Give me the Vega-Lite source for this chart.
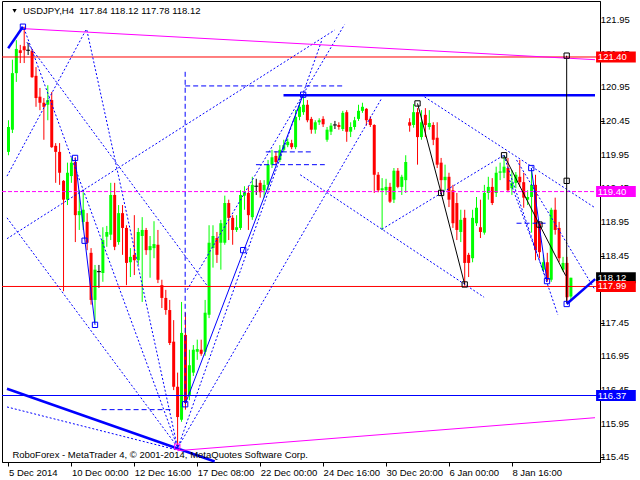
{
  "$schema": "https://vega.github.io/schema/vega-lite/v6.json",
  "width": 598,
  "height": 461,
  "autosize": {"type": "none"},
  "padding": {"left": 2, "top": 1, "right": 40, "bottom": 18},
  "background": "white",
  "config": {
    "view": {"stroke": "#000000", "strokeWidth": 1},
    "axis": {"grid": false, "title": null, "domainColor": "#000000", "tickColor": "#000000", "labelColor": "#000000", "labelFont": "Liberation Sans", "labelFontSize": 9.5, "labelOverlap": false, "labelFlush": false, "labelBound": false, "tickSize": 4},
    "axisX": {"labelPadding": 1}
  },
  "datasets": {
    "candles": [
      {"i":0,"o":119.99,"h":120.46,"l":119.94,"c":120.36},
      {"i":1,"o":120.32,"h":121.36,"l":120.27,"c":121.16},
      {"i":2,"o":121.16,"h":121.65,"l":121.03,"c":121.52},
      {"i":3,"o":121.50,"h":121.58,"l":121.31,"c":121.46},
      {"i":4,"o":121.56,"h":121.85,"l":121.31,"c":121.50},
      {"i":5,"o":121.50,"h":121.61,"l":121.43,"c":121.50},
      {"i":6,"o":121.49,"h":121.52,"l":121.09,"c":121.10},
      {"i":7,"o":121.12,"h":121.25,"l":120.66,"c":120.79},
      {"i":8,"o":120.81,"h":120.94,"l":120.61,"c":120.72},
      {"i":9,"o":120.72,"h":120.79,"l":120.17,"c":120.66},
      {"i":10,"o":120.69,"h":120.98,"l":120.46,"c":120.76},
      {"i":11,"o":120.76,"h":120.88,"l":120.05,"c":120.06},
      {"i":12,"o":120.08,"h":120.12,"l":119.53,"c":119.99},
      {"i":13,"o":119.99,"h":120.12,"l":119.50,"c":119.68},
      {"i":14,"o":119.56,"h":119.57,"l":117.92,"c":119.28},
      {"i":15,"o":119.28,"h":119.83,"l":119.20,"c":119.68},
      {"i":16,"o":119.63,"h":119.90,"l":119.53,"c":119.83},
      {"i":17,"o":119.84,"h":119.91,"l":118.65,"c":119.05},
      {"i":18,"o":119.05,"h":119.42,"l":118.83,"c":119.11},
      {"i":19,"o":118.95,"h":119.39,"l":118.83,"c":119.13},
      {"i":20,"o":118.95,"h":119.08,"l":118.53,"c":118.64},
      {"i":21,"o":118.49,"h":118.56,"l":117.72,"c":117.79},
      {"i":22,"o":117.79,"h":118.31,"l":117.45,"c":118.24},
      {"i":23,"o":118.21,"h":118.31,"l":117.97,"c":118.21},
      {"i":24,"o":118.19,"h":118.87,"l":118.06,"c":118.68},
      {"i":25,"o":118.73,"h":118.89,"l":118.58,"c":118.80},
      {"i":26,"o":118.76,"h":119.53,"l":118.68,"c":119.35},
      {"i":27,"o":119.35,"h":119.53,"l":118.53,"c":118.58},
      {"i":28,"o":118.65,"h":119.20,"l":118.61,"c":119.08},
      {"i":29,"o":119.08,"h":119.20,"l":118.46,"c":118.86},
      {"i":30,"o":118.86,"h":118.90,"l":118.01,"c":118.34},
      {"i":31,"o":118.35,"h":118.56,"l":118.13,"c":118.43},
      {"i":32,"o":118.46,"h":119.05,"l":118.16,"c":118.38},
      {"i":33,"o":118.38,"h":118.86,"l":118.31,"c":118.80},
      {"i":34,"o":118.74,"h":119.02,"l":117.76,"c":118.83},
      {"i":35,"o":118.83,"h":118.86,"l":118.46,"c":118.53},
      {"i":36,"o":118.53,"h":118.74,"l":118.12,"c":118.59},
      {"i":37,"o":118.56,"h":118.96,"l":118.41,"c":118.62},
      {"i":38,"o":118.61,"h":118.83,"l":118.04,"c":118.09},
      {"i":39,"o":118.01,"h":118.09,"l":117.67,"c":117.82},
      {"i":40,"o":117.82,"h":117.94,"l":117.57,"c":117.64},
      {"i":41,"o":117.64,"h":117.79,"l":117.12,"c":117.15},
      {"i":42,"o":117.17,"h":117.49,"l":116.45,"c":116.50},
      {"i":43,"o":116.50,"h":116.71,"l":115.58,"c":116.05},
      {"i":44,"o":116.01,"h":117.76,"l":115.98,"c":117.30},
      {"i":45,"o":117.27,"h":117.60,"l":116.16,"c":116.26},
      {"i":46,"o":116.38,"h":117.05,"l":116.30,"c":116.82},
      {"i":47,"o":116.71,"h":117.12,"l":116.66,"c":117.05},
      {"i":48,"o":117.02,"h":117.20,"l":116.90,"c":117.06},
      {"i":49,"o":117.05,"h":117.20,"l":116.96,"c":116.99},
      {"i":50,"o":117.02,"h":117.79,"l":116.96,"c":117.60},
      {"i":51,"o":117.57,"h":118.90,"l":117.52,"c":118.64},
      {"i":52,"o":118.56,"h":118.90,"l":118.27,"c":118.74},
      {"i":53,"o":118.71,"h":118.80,"l":118.34,"c":118.46},
      {"i":54,"o":118.64,"h":118.98,"l":118.24,"c":118.93},
      {"i":55,"o":118.64,"h":119.34,"l":118.61,"c":119.23},
      {"i":56,"o":119.23,"h":119.28,"l":118.68,"c":119.01},
      {"i":57,"o":119.01,"h":119.05,"l":118.61,"c":118.83},
      {"i":58,"o":118.83,"h":119.05,"l":118.80,"c":118.87},
      {"i":59,"o":118.86,"h":119.42,"l":118.83,"c":119.35},
      {"i":60,"o":119.34,"h":119.48,"l":119.13,"c":119.39},
      {"i":61,"o":119.38,"h":119.48,"l":118.83,"c":119.05},
      {"i":62,"o":119.02,"h":119.62,"l":118.98,"c":119.50},
      {"i":63,"o":119.48,"h":119.59,"l":119.35,"c":119.48},
      {"i":64,"o":119.53,"h":119.57,"l":119.31,"c":119.39},
      {"i":65,"o":119.42,"h":119.57,"l":119.31,"c":119.50},
      {"i":66,"o":119.50,"h":119.87,"l":119.42,"c":119.80},
      {"i":67,"o":119.80,"h":120.02,"l":119.75,"c":119.91},
      {"i":68,"o":119.93,"h":120.00,"l":119.80,"c":119.84},
      {"i":69,"o":119.87,"h":120.09,"l":119.84,"c":120.02},
      {"i":70,"o":120.02,"h":120.17,"l":119.99,"c":120.09},
      {"i":71,"o":120.09,"h":120.19,"l":120.06,"c":120.14},
      {"i":72,"o":120.12,"h":120.17,"l":120.03,"c":120.06},
      {"i":73,"o":120.06,"h":120.61,"l":120.03,"c":120.51},
      {"i":74,"o":120.51,"h":120.73,"l":120.46,"c":120.66},
      {"i":75,"o":120.58,"h":120.84,"l":120.54,"c":120.69},
      {"i":76,"o":120.69,"h":120.76,"l":120.43,"c":120.46},
      {"i":77,"o":120.48,"h":120.51,"l":120.26,"c":120.32},
      {"i":78,"o":120.32,"h":120.46,"l":120.26,"c":120.43},
      {"i":79,"o":120.43,"h":120.49,"l":120.39,"c":120.46},
      {"i":80,"o":120.48,"h":120.52,"l":120.36,"c":120.40},
      {"i":81,"o":120.17,"h":120.36,"l":120.14,"c":120.32},
      {"i":82,"o":120.29,"h":120.42,"l":120.24,"c":120.38},
      {"i":83,"o":120.39,"h":120.45,"l":120.33,"c":120.39},
      {"i":84,"o":120.39,"h":120.43,"l":120.32,"c":120.36},
      {"i":85,"o":120.33,"h":120.60,"l":120.30,"c":120.57},
      {"i":86,"o":120.58,"h":120.61,"l":120.14,"c":120.29},
      {"i":87,"o":120.29,"h":120.43,"l":120.21,"c":120.36},
      {"i":88,"o":120.36,"h":120.51,"l":120.32,"c":120.46},
      {"i":89,"o":120.48,"h":120.69,"l":120.45,"c":120.60},
      {"i":90,"o":120.60,"h":120.72,"l":120.57,"c":120.66},
      {"i":91,"o":120.63,"h":120.64,"l":120.38,"c":120.46},
      {"i":92,"o":120.48,"h":120.52,"l":120.36,"c":120.39},
      {"i":93,"o":120.39,"h":120.40,"l":119.38,"c":119.65},
      {"i":94,"o":119.65,"h":119.69,"l":119.39,"c":119.42},
      {"i":95,"o":119.42,"h":119.60,"l":118.83,"c":119.45},
      {"i":96,"o":119.42,"h":119.59,"l":119.35,"c":119.47},
      {"i":97,"o":119.47,"h":119.53,"l":119.23,"c":119.25},
      {"i":98,"o":119.28,"h":119.75,"l":119.23,"c":119.71},
      {"i":99,"o":119.71,"h":119.75,"l":119.45,"c":119.47},
      {"i":100,"o":119.47,"h":119.65,"l":119.35,"c":119.62},
      {"i":101,"o":119.57,"h":119.94,"l":119.38,"c":119.84},
      {"i":102,"o":120.43,"h":120.49,"l":120.29,"c":120.38},
      {"i":103,"o":120.39,"h":120.70,"l":120.35,"c":120.58},
      {"i":104,"o":120.58,"h":120.64,"l":119.80,"c":120.21},
      {"i":105,"o":120.21,"h":120.61,"l":120.17,"c":120.43},
      {"i":106,"o":120.54,"h":120.64,"l":120.21,"c":120.39},
      {"i":107,"o":120.36,"h":120.61,"l":120.32,"c":120.42},
      {"i":108,"o":120.39,"h":120.43,"l":120.09,"c":120.17},
      {"i":109,"o":120.20,"h":120.43,"l":119.75,"c":119.80},
      {"i":110,"o":119.83,"h":119.90,"l":119.35,"c":119.57},
      {"i":111,"o":119.57,"h":119.80,"l":119.42,"c":119.62},
      {"i":112,"o":119.62,"h":119.68,"l":119.17,"c":119.28},
      {"i":113,"o":119.42,"h":119.50,"l":118.86,"c":118.93},
      {"i":114,"o":119.23,"h":119.38,"l":118.68,"c":118.83},
      {"i":115,"o":118.80,"h":119.13,"l":118.65,"c":118.98},
      {"i":116,"o":119.01,"h":119.13,"l":118.00,"c":118.34},
      {"i":117,"o":118.46,"h":118.49,"l":118.13,"c":118.34},
      {"i":118,"o":118.41,"h":119.13,"l":118.35,"c":119.01},
      {"i":119,"o":118.93,"h":119.32,"l":118.89,"c":119.16},
      {"i":120,"o":118.87,"h":119.28,"l":118.71,"c":118.80},
      {"i":121,"o":118.79,"h":119.50,"l":118.76,"c":119.38},
      {"i":122,"o":119.38,"h":119.62,"l":119.28,"c":119.47},
      {"i":123,"o":119.47,"h":119.60,"l":119.20,"c":119.23},
      {"i":124,"o":119.38,"h":119.77,"l":119.32,"c":119.68},
      {"i":125,"o":119.68,"h":119.83,"l":119.57,"c":119.70},
      {"i":126,"o":119.68,"h":119.94,"l":119.60,"c":119.77},
      {"i":127,"o":119.75,"h":119.90,"l":119.39,"c":119.42},
      {"i":128,"o":119.45,"h":119.72,"l":119.35,"c":119.53},
      {"i":129,"o":119.53,"h":119.69,"l":119.45,"c":119.65},
      {"i":130,"o":119.62,"h":119.87,"l":119.47,"c":119.54},
      {"i":131,"o":119.54,"h":119.68,"l":119.16,"c":119.31},
      {"i":132,"o":119.28,"h":119.42,"l":119.20,"c":119.32},
      {"i":133,"o":119.32,"h":119.75,"l":118.79,"c":119.50},
      {"i":134,"o":119.50,"h":119.65,"l":118.38,"c":118.53},
      {"i":135,"o":118.93,"h":118.96,"l":118.41,"c":118.50},
      {"i":136,"o":118.24,"h":118.46,"l":118.21,"c":118.35},
      {"i":137,"o":118.35,"h":118.49,"l":118.06,"c":118.09},
      {"i":138,"o":118.09,"h":119.16,"l":118.06,"c":119.13},
      {"i":139,"o":119.13,"h":119.31,"l":118.76,"c":118.83},
      {"i":140,"o":118.86,"h":118.95,"l":118.35,"c":118.41},
      {"i":141,"o":118.24,"h":118.43,"l":118.21,"c":118.34},
      {"i":142,"o":118.34,"h":118.43,"l":117.75,"c":117.83},
      {"i":143,"o":117.84,"h":118.12,"l":117.78,"c":118.12}
    ],
    "lines": [
      {"id":"T1","g":"thick","o":0,"i":-0.075,"p":121.53},{"id":"T1","g":"thick","o":1,"i":3.675,"p":121.85},
      {"id":"T2","g":"thick","o":0,"i":141.925,"p":117.73},{"id":"T2","g":"thick","o":1,"i":149.175,"p":118.10},
      {"id":"T3","g":"thick","o":0,"i":-0.375,"p":116.47},{"id":"T3","g":"thick","o":1,"i":52.425,"p":115.39},
      {"id":"T4","g":"thick","o":0,"i":69.925,"p":120.83},{"id":"T4","g":"thick","o":1,"i":149.125,"p":120.83},
      {"id":"A","g":"dot","o":0,"i":19.675,"p":121.80},{"id":"A","g":"dot","o":1,"i":-0.375,"p":119.63},
      {"id":"B","g":"dot","o":0,"i":-0.375,"p":118.70},{"id":"B","g":"dot","o":1,"i":82.925,"p":121.80},
      {"id":"E","g":"dot","o":0,"i":4.675,"p":121.62},{"id":"E","g":"dot","o":1,"i":50.425,"p":118.01},
      {"id":"F","g":"dot","o":0,"i":-0.375,"p":119.01},{"id":"F","g":"dot","o":1,"i":42.925,"p":115.61},
      {"id":"G","g":"dot","o":0,"i":3.925,"p":121.83},{"id":"G","g":"dot","o":1,"i":42.925,"p":115.61},
      {"id":"H","g":"dot","o":0,"i":19.925,"p":121.80},{"id":"H","g":"dot","o":1,"i":42.925,"p":115.61},
      {"id":"I","g":"dot","o":0,"i":-0.375,"p":116.20},{"id":"I","g":"dot","o":1,"i":42.925,"p":115.56},
      {"id":"L","g":"dot","o":0,"i":43.175,"p":115.61},{"id":"L","g":"dot","o":1,"i":94.925,"p":120.79},
      {"id":"K","g":"dot","o":0,"i":43.175,"p":115.61},{"id":"K","g":"dot","o":1,"i":79.675,"p":121.65},
      {"id":"N","g":"dot","o":0,"i":45.425,"p":117.94},{"id":"N","g":"dot","o":1,"i":85.425,"p":121.88},
      {"id":"P","g":"dot","o":0,"i":104.925,"p":120.84},{"id":"P","g":"dot","o":1,"i":149.125,"p":119.16},
      {"id":"Q","g":"dot","o":0,"i":94.925,"p":118.84},{"id":"Q","g":"dot","o":1,"i":125.925,"p":119.94},
      {"id":"R","g":"dot","o":0,"i":74.175,"p":119.65},{"id":"R","g":"dot","o":1,"i":120.925,"p":117.83},
      {"id":"S","g":"dot","o":0,"i":125.925,"p":119.94},{"id":"S","g":"dot","o":1,"i":139.675,"p":117.57},
      {"id":"U","g":"dot","o":0,"i":129.175,"p":119.87},{"id":"U","g":"dot","o":1,"i":149.125,"p":117.94},
      {"id":"W","g":"dot","o":0,"i":127.425,"p":119.57},{"id":"W","g":"dot","o":1,"i":136.925,"p":118.07},
      {"id":"J","g":"dash","o":0,"i":23.675,"p":116.16},{"id":"J","g":"dash","o":1,"i":41.175,"p":116.16},
      {"id":"V","g":"dash","o":0,"i":44.925,"p":121.18},{"id":"V","g":"dash","o":1,"i":44.925,"p":116.26},
      {"id":"H86","g":"dash","o":0,"i":44.925,"p":120.97},{"id":"H86","g":"dash","o":1,"i":85.425,"p":120.97},
      {"id":"H152","g":"dash","o":0,"i":65.425,"p":119.99},{"id":"H152","g":"dash","o":1,"i":77.175,"p":119.99},
      {"id":"H165","g":"dash","o":0,"i":62.925,"p":119.80},{"id":"H165","g":"dash","o":1,"i":80.425,"p":119.80},
      {"id":"D26","g":"dash","o":0,"i":129.175,"p":118.93},{"id":"D26","g":"dash","o":1,"i":136.675,"p":118.93},
      {"id":"s1","g":"solid","o":0,"i":16.925,"p":119.90},{"id":"s1","g":"solid","o":1,"i":22.0,"p":117.42},
      {"id":"M","g":"solid","o":0,"i":44.925,"p":116.24},{"id":"M","g":"solid","o":1,"i":74.925,"p":120.84},
      {"id":"s3","g":"solid","o":0,"i":132.925,"p":119.75},{"id":"s3","g":"solid","o":1,"i":136.925,"p":118.07},
      {"id":"z1","g":"black","o":0,"i":104,"p":120.71},{"id":"z1","g":"black","o":1,"i":110,"p":119.38},{"id":"z1","g":"black","o":2,"i":116,"p":118.02},
      {"id":"z2","g":"black","o":0,"i":126,"p":119.94},{"id":"z2","g":"black","o":1,"i":135,"p":118.91},{"id":"z2","g":"black","o":2,"i":141.675,"p":118.15},
      {"id":"z3","g":"black","o":0,"i":141.925,"p":121.42},{"id":"z3","g":"black","o":1,"i":141.925,"p":117.75},
      {"id":"m1","g":"mag","o":0,"i":4.175,"p":121.82},{"id":"m1","g":"mag","o":1,"i":149.125,"p":121.36},
      {"id":"m2","g":"mag","o":0,"i":42.925,"p":115.55},{"id":"m2","g":"mag","o":1,"i":149.125,"p":116.04}
    ],
    "pts": [
      {"i":3.675,"p":121.85,"k":"b"},{"i":16.925,"p":119.90,"k":"b"},{"i":19.35,"p":118.67,"k":"b"},
      {"i":22.0,"p":117.42,"k":"b"},{"i":44.925,"p":116.24,"k":"b"},{"i":59.675,"p":118.53,"k":"b"},
      {"i":74.925,"p":120.84,"k":"b"},{"i":132.925,"p":119.75,"k":"b"},{"i":136.925,"p":118.07,"k":"b"},
      {"i":141.925,"p":117.73,"k":"b"},
      {"i":104,"p":120.71,"k":"k"},{"i":110,"p":119.38,"k":"k"},{"i":116,"p":118.02,"k":"k"},
      {"i":126,"p":119.94,"k":"k"},{"i":135,"p":118.91,"k":"k"},{"i":141.925,"p":121.42,"k":"k"},
      {"i":141.925,"p":119.56,"k":"k"},
      {"i":42.925,"p":115.61,"k":"m"}
    ],
    "ylabels": [
      {"v":115.45},{"v":115.95},{"v":116.45},{"v":116.95},{"v":117.45},{"v":117.95},{"v":118.45},
      {"v":118.95},{"v":119.45},{"v":119.95},{"v":120.45},{"v":120.95},{"v":121.45},{"v":121.95}
    ],
    "tags": [
      {"p":121.40,"t":"121.40","k":"r"},
      {"p":119.40,"t":"119.40","k":"m"},
      {"p":118.12,"t":"118.12","k":"bid"},
      {"p":117.99,"t":"117.99","k":"r"},
      {"p":116.37,"t":"116.37","k":"b"}
    ]
  },
  "layer": [
    {
      "data": {"name": "candles"},
      "mark": {"type": "rule", "strokeWidth": 1},
      "encoding": {
        "x": {"field": "i", "type": "quantitative", "scale": {"domain": [-0.375, 149.125], "nice": false, "zero": false},
          "axis": {"orient": "bottom", "values": [0,16,32,48,64,80,96,112,128],
            "labelExpr": "['5 Dec 2014','10 Dec 00:00','12 Dec 16:00','17 Dec 08:00','22 Dec 00:00','24 Dec 16:00','30 Dec 20:00','6 Jan 00:00','8 Jan 16:00'][round(datum.value/16)]",
            "labelAlign": "left", "labelBaseline": "top"}},
        "y": {"field": "l", "type": "quantitative", "scale": {"domain": [115.382, 122.232], "nice": false, "zero": false},
          "axis": {"orient": "right", "values": [115.45,115.95,116.45,116.95,117.45,117.95,118.45,118.95,119.45,119.95,120.45,120.95,121.45,121.95],
            "labels": false}},
        "y2": {"field": "h"},
        "color": {"condition": [{"test": "datum.c > datum.o", "value": "#00ff00"}, {"test": "datum.c < datum.o", "value": "#ff0000"}], "value": "#000000"}
      }
    },
    {
      "data": {"name": "candles"},
      "mark": {"type": "bar", "size": 3},
      "encoding": {
        "x": {"field": "i", "type": "quantitative", "scale": {"domain": [-0.375, 149.125], "nice": false, "zero": false}},
        "y": {"field": "o", "type": "quantitative", "scale": {"domain": [115.382, 122.232], "nice": false, "zero": false}},
        "y2": {"field": "c"},
        "color": {"condition": [{"test": "datum.c > datum.o", "value": "#00ff00"}, {"test": "datum.c < datum.o", "value": "#ff0000"}], "value": "#000000"}
      }
    },
    {
      "data": {"name": "candles"},
      "transform": [{"filter": "datum.o == datum.c"}],
      "mark": {"type": "rule", "strokeWidth": 1, "color": "#000000", "xOffset": -2, "x2Offset": 2},
      "encoding": {
        "x": {"field": "i", "type": "quantitative", "scale": {"domain": [-0.375, 149.125], "nice": false, "zero": false}},
        "x2": {"field": "i"},
        "y": {"field": "o", "type": "quantitative", "scale": {"domain": [115.382, 122.232], "nice": false, "zero": false}}
      }
    },
    {
      "data": {"name": "tags"},
      "transform": [{"filter": "datum.k == 'r' || datum.k == 'b'"}],
      "mark": {"type": "rule", "strokeWidth": 1},
      "encoding": {
        "y": {"field": "p", "type": "quantitative", "scale": {"domain": [115.382, 122.232], "nice": false, "zero": false}},
        "color": {"field": "k", "type": "nominal", "scale": {"domain": ["r","m","bid","b"], "range": ["#ff0000","#ff00ff","#000000","#0000ff"]}, "legend": null}
      }
    },
    {
      "data": {"name": "tags"},
      "transform": [{"filter": "datum.k == 'm'"}],
      "mark": {"type": "rule", "strokeWidth": 1, "strokeDash": [4, 2], "color": "#ff00ff"},
      "encoding": {
        "y": {"field": "p", "type": "quantitative", "scale": {"domain": [115.382, 122.232], "nice": false, "zero": false}}
      }
    },
    {
      "data": {"name": "lines"},
      "transform": [{"filter": "datum.g == 'dot'"}],
      "mark": {"type": "line", "strokeWidth": 1, "strokeDash": [2, 2], "color": "#0000ff"},
      "encoding": {
        "x": {"field": "i", "type": "quantitative", "scale": {"domain": [-0.375, 149.125], "nice": false, "zero": false}},
        "y": {"field": "p", "type": "quantitative", "scale": {"domain": [115.382, 122.232], "nice": false, "zero": false}},
        "detail": {"field": "id"},
        "order": {"field": "o"}
      }
    },
    {
      "data": {"name": "lines"},
      "transform": [{"filter": "datum.g == 'dash'"}],
      "mark": {"type": "line", "strokeWidth": 1, "strokeDash": [5, 3], "color": "#0000ff"},
      "encoding": {
        "x": {"field": "i", "type": "quantitative", "scale": {"domain": [-0.375, 149.125], "nice": false, "zero": false}},
        "y": {"field": "p", "type": "quantitative", "scale": {"domain": [115.382, 122.232], "nice": false, "zero": false}},
        "detail": {"field": "id"},
        "order": {"field": "o"}
      }
    },
    {
      "data": {"name": "lines"},
      "transform": [{"filter": "datum.g == 'solid'"}],
      "mark": {"type": "line", "strokeWidth": 1, "color": "#0000ff"},
      "encoding": {
        "x": {"field": "i", "type": "quantitative", "scale": {"domain": [-0.375, 149.125], "nice": false, "zero": false}},
        "y": {"field": "p", "type": "quantitative", "scale": {"domain": [115.382, 122.232], "nice": false, "zero": false}},
        "detail": {"field": "id"},
        "order": {"field": "o"}
      }
    },
    {
      "data": {"name": "lines"},
      "transform": [{"filter": "datum.g == 'thick'"}],
      "mark": {"type": "line", "strokeWidth": 2.5, "color": "#0000ff"},
      "encoding": {
        "x": {"field": "i", "type": "quantitative", "scale": {"domain": [-0.375, 149.125], "nice": false, "zero": false}},
        "y": {"field": "p", "type": "quantitative", "scale": {"domain": [115.382, 122.232], "nice": false, "zero": false}},
        "detail": {"field": "id"},
        "order": {"field": "o"}
      }
    },
    {
      "data": {"name": "lines"},
      "transform": [{"filter": "datum.g == 'black'"}],
      "mark": {"type": "line", "strokeWidth": 1, "color": "#000000"},
      "encoding": {
        "x": {"field": "i", "type": "quantitative", "scale": {"domain": [-0.375, 149.125], "nice": false, "zero": false}},
        "y": {"field": "p", "type": "quantitative", "scale": {"domain": [115.382, 122.232], "nice": false, "zero": false}},
        "detail": {"field": "id"},
        "order": {"field": "o"}
      }
    },
    {
      "data": {"name": "lines"},
      "transform": [{"filter": "datum.g == 'mag'"}],
      "mark": {"type": "line", "strokeWidth": 1, "color": "#ff00ff"},
      "encoding": {
        "x": {"field": "i", "type": "quantitative", "scale": {"domain": [-0.375, 149.125], "nice": false, "zero": false}},
        "y": {"field": "p", "type": "quantitative", "scale": {"domain": [115.382, 122.232], "nice": false, "zero": false}},
        "detail": {"field": "id"},
        "order": {"field": "o"}
      }
    },
    {
      "data": {"name": "pts"},
      "transform": [{"filter": "datum.k == 'b'"}],
      "mark": {"type": "point", "shape": "square", "size": 28, "filled": false, "strokeWidth": 1, "color": "#0000ff", "opacity": 1},
      "encoding": {
        "x": {"field": "i", "type": "quantitative", "scale": {"domain": [-0.375, 149.125], "nice": false, "zero": false}},
        "y": {"field": "p", "type": "quantitative", "scale": {"domain": [115.382, 122.232], "nice": false, "zero": false}}
      }
    },
    {
      "data": {"name": "pts"},
      "transform": [{"filter": "datum.k == 'k'"}],
      "mark": {"type": "point", "shape": "square", "size": 28, "filled": false, "strokeWidth": 1, "color": "#000000", "opacity": 1},
      "encoding": {
        "x": {"field": "i", "type": "quantitative", "scale": {"domain": [-0.375, 149.125], "nice": false, "zero": false}},
        "y": {"field": "p", "type": "quantitative", "scale": {"domain": [115.382, 122.232], "nice": false, "zero": false}}
      }
    },
    {
      "data": {"name": "pts"},
      "transform": [{"filter": "datum.k == 'm'"}],
      "mark": {"type": "point", "shape": "square", "size": 28, "filled": false, "strokeWidth": 1, "color": "#ff00ff", "opacity": 1},
      "encoding": {
        "x": {"field": "i", "type": "quantitative", "scale": {"domain": [-0.375, 149.125], "nice": false, "zero": false}},
        "y": {"field": "p", "type": "quantitative", "scale": {"domain": [115.382, 122.232], "nice": false, "zero": false}}
      }
    },
    {
      "data": {"name": "ylabels"},
      "mark": {"type": "text", "align": "left", "baseline": "middle", "font": "Liberation Sans", "fontSize": 9.5, "color": "#000000"},
      "encoding": {
        "x": {"datum": 150.6, "type": "quantitative", "scale": {"domain": [-0.375, 149.125], "nice": false, "zero": false}},
        "y": {"field": "v", "type": "quantitative", "scale": {"domain": [115.382, 122.232], "nice": false, "zero": false}},
        "text": {"field": "v", "type": "quantitative", "format": ".2f"}
      }
    },
    {
      "data": {"name": "tags"},
      "mark": {"type": "rule", "strokeWidth": 11, "strokeCap": "butt"},
      "encoding": {
        "x": {"datum": 149.4, "type": "quantitative", "scale": {"domain": [-0.375, 149.125], "nice": false, "zero": false}},
        "x2": {"datum": 159.5},
        "y": {"field": "p", "type": "quantitative", "scale": {"domain": [115.382, 122.232], "nice": false, "zero": false}},
        "color": {"field": "k", "type": "nominal", "scale": {"domain": ["r","m","bid","b"], "range": ["#ff0000","#ff00ff","#000000","#0000ff"]}, "legend": null}
      }
    },
    {
      "data": {"name": "tags"},
      "mark": {"type": "text", "align": "left", "baseline": "middle", "font": "Liberation Sans", "fontSize": 9.5, "color": "#ffffff"},
      "encoding": {
        "x": {"datum": 149.85, "type": "quantitative", "scale": {"domain": [-0.375, 149.125], "nice": false, "zero": false}},
        "y": {"field": "p", "type": "quantitative", "scale": {"domain": [115.382, 122.232], "nice": false, "zero": false}},
        "text": {"field": "t"}
      }
    },
    {
      "data": {"values": [{"t": "USDJPY,H4\u00a0\u00a0117.84 118.12 117.78 118.12"}]},
      "mark": {"type": "text", "align": "left", "baseline": "alphabetic", "font": "Liberation Sans", "fontSize": 9.5, "color": "#000000"},
      "encoding": {
        "x": {"datum": 3.675, "type": "quantitative", "scale": {"domain": [-0.375, 149.125], "nice": false, "zero": false}},
        "y": {"datum": 122.039, "type": "quantitative", "scale": {"domain": [115.382, 122.232], "nice": false, "zero": false}},
        "text": {"field": "t"}
      }
    },
    {
      "data": {"values": [{"t": "menu"}]},
      "mark": {"type": "point", "shape": "triangle-down", "size": 18, "filled": true, "color": "#000000", "opacity": 1},
      "encoding": {
        "x": {"datum": 1.55, "type": "quantitative", "scale": {"domain": [-0.375, 149.125], "nice": false, "zero": false}},
        "y": {"datum": 122.084, "type": "quantitative", "scale": {"domain": [115.382, 122.232], "nice": false, "zero": false}}
      }
    },
    {
      "data": {"values": [{"t": "RoboForex - MetaTrader 4, © 2001-2014, MetaQuotes Software Corp."}]},
      "mark": {"type": "text", "align": "left", "baseline": "alphabetic", "font": "Liberation Sans", "fontSize": 9.5, "color": "#000000"},
      "encoding": {
        "x": {"datum": 1.0, "type": "quantitative", "scale": {"domain": [-0.375, 149.125], "nice": false, "zero": false}},
        "y": {"datum": 115.446, "type": "quantitative", "scale": {"domain": [115.382, 122.232], "nice": false, "zero": false}},
        "text": {"field": "t"}
      }
    }
  ]
}
